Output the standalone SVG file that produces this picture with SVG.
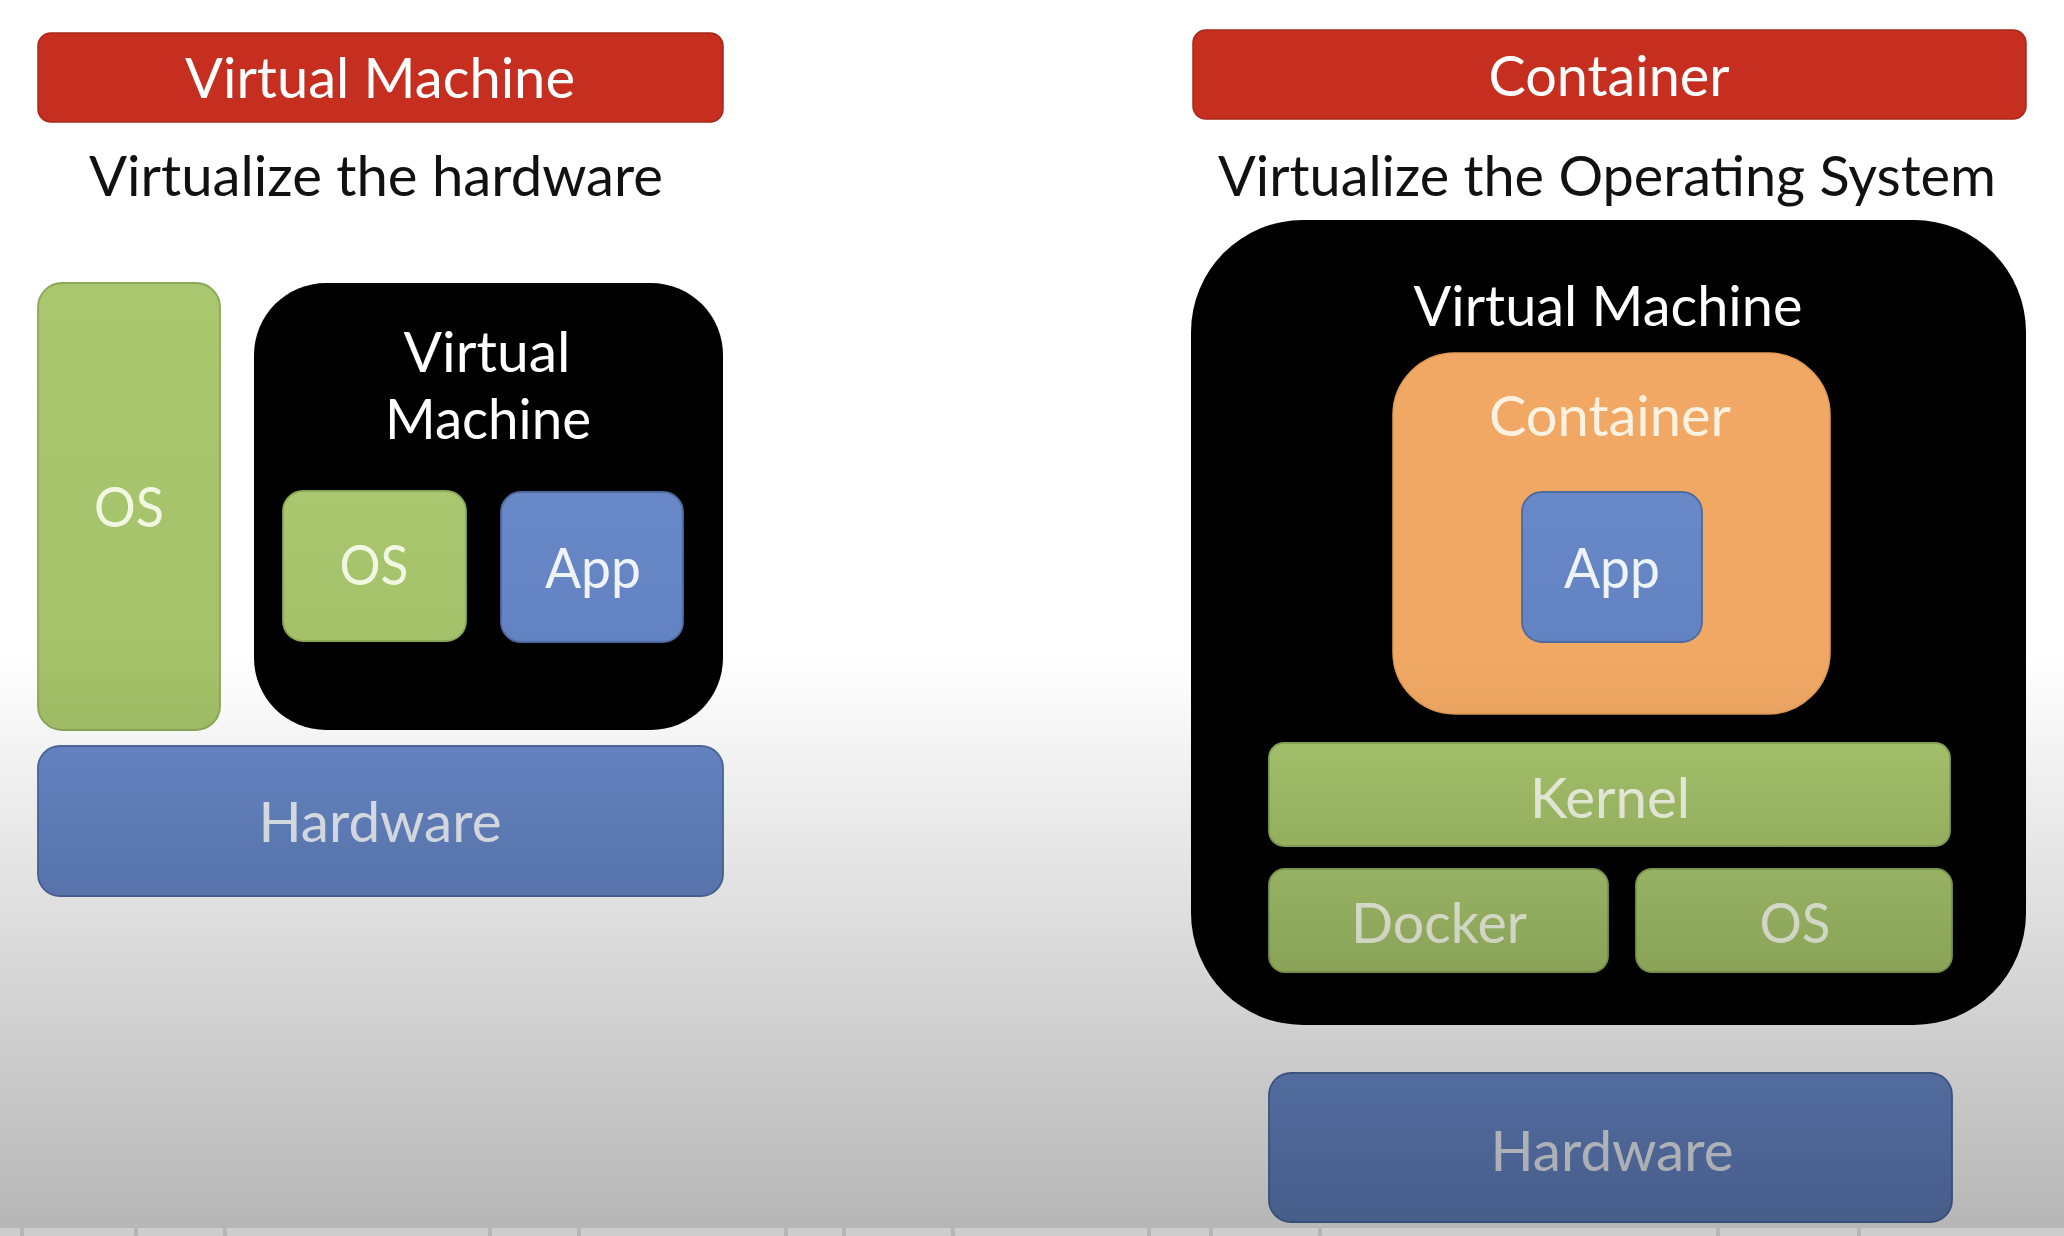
<svg xmlns="http://www.w3.org/2000/svg" width="2064" height="1236" viewBox="0 0 2064 1236">
<style>
text{font-family:Lato,"Open Sans","Liberation Sans",sans-serif;text-anchor:middle;font-size:56px}
.hdr{fill:#c62e1f;stroke:#a9271a;stroke-width:1.5}
.sub{fill:#111111}
.w{fill:#ffffff}
.green{fill:url(#gGreen);stroke:#8aa858;stroke-width:1.8}
.blue{fill:url(#gBlue);stroke:#4d6a9f;stroke-width:1.8}
.orange{fill:#f0a864;stroke:#e39a57;stroke-width:1.5}
.black{fill:#000000}
.tg{fill:#f2f7e4}
.tb{fill:#eef2f9}
.to{fill:#fdf2e2}
.th{fill:#e6ebf2}
</style>
<defs>
<linearGradient id="gGreen" x1="0" y1="0" x2="0" y2="1"><stop offset="0" stop-color="#a9c76f"/><stop offset="1" stop-color="#a3c168"/></linearGradient>
<linearGradient id="gBlue" x1="0" y1="0" x2="0" y2="1"><stop offset="0" stop-color="#6888c8"/><stop offset="1" stop-color="#6382c1"/></linearGradient>
<linearGradient id="shade" x1="0" y1="0" x2="0" y2="1"><stop offset="0.53" stop-color="#000" stop-opacity="0"/><stop offset="1" stop-color="#000" stop-opacity="0.29"/></linearGradient>
</defs>
<rect x="0" y="0" width="2064" height="1236" fill="#ffffff"/>

<g id="vm-header">
<rect class="hdr" x="38" y="33" width="685" height="89" rx="13"/>
<text class="w" x="380" y="98" textLength="390" lengthAdjust="spacingAndGlyphs">Virtual Machine</text>
</g>
<g id="vm-subtitle">
<text class="sub" x="376" y="196" textLength="574" lengthAdjust="spacingAndGlyphs">Virtualize the hardware</text>
</g>
<g id="vm-host-os">
<rect class="green" x="38" y="283" width="182" height="447" rx="24"/>
<text class="tg" x="129" y="527" textLength="70" lengthAdjust="spacingAndGlyphs">OS</text>
</g>
<g id="vm-box">
<rect class="black" x="254" y="283" width="469" height="447" rx="72"/>
<text class="w" x="487" y="372" textLength="167" lengthAdjust="spacingAndGlyphs">Virtual</text>
<text class="w" x="488" y="439" textLength="206" lengthAdjust="spacingAndGlyphs">Machine</text>
</g>
<g id="vm-guest-os">
<rect class="green" x="283" y="491" width="183" height="150" rx="20"/>
<text class="tg" x="374" y="585" textLength="69" lengthAdjust="spacingAndGlyphs">OS</text>
</g>
<g id="vm-app">
<rect class="blue" x="501" y="492" width="182" height="150" rx="20"/>
<text class="tb" x="593" y="588" textLength="96" lengthAdjust="spacingAndGlyphs">App</text>
</g>
<g id="vm-hardware">
<rect class="blue" x="38" y="746" width="685" height="150" rx="22"/>
<text class="th" x="380" y="842" textLength="243" lengthAdjust="spacingAndGlyphs">Hardware</text>
</g>

<g id="ct-header">
<rect class="hdr" x="1193" y="30" width="833" height="89" rx="13"/>
<text class="w" x="1609" y="96" textLength="241" lengthAdjust="spacingAndGlyphs">Container</text>
</g>
<g id="ct-subtitle">
<text class="sub" x="1607" y="196" textLength="778" lengthAdjust="spacingAndGlyphs">Virtualize the Operating System</text>
</g>
<g id="ct-vm">
<rect class="black" x="1191" y="220" width="835" height="805" rx="112"/>
<text class="w" x="1608" y="326" textLength="389" lengthAdjust="spacingAndGlyphs">Virtual Machine</text>
</g>
<g id="ct-container">
<rect class="orange" x="1393" y="353" width="437" height="361" rx="62"/>
<text class="to" x="1610" y="436" textLength="242" lengthAdjust="spacingAndGlyphs">Container</text>
</g>
<g id="ct-app">
<rect class="blue" x="1522" y="492" width="180" height="150" rx="20"/>
<text class="tb" x="1612" y="588" textLength="96" lengthAdjust="spacingAndGlyphs">App</text>
</g>
<g id="ct-kernel">
<rect class="green" x="1269" y="743" width="681" height="103" rx="15"/>
<text class="tg" x="1610" y="818" textLength="160" lengthAdjust="spacingAndGlyphs">Kernel</text>
</g>
<g id="ct-docker">
<rect class="green" x="1269" y="869" width="339" height="103" rx="16"/>
<text class="tg" x="1439" y="943" textLength="176" lengthAdjust="spacingAndGlyphs">Docker</text>
</g>
<g id="ct-os">
<rect class="green" x="1636" y="869" width="316" height="103" rx="16"/>
<text class="tg" x="1795" y="943" textLength="71" lengthAdjust="spacingAndGlyphs">OS</text>
</g>
<g id="ct-hardware">
<rect class="blue" x="1269" y="1073" width="683" height="149" rx="22"/>
<text class="th" x="1612" y="1171" textLength="243" lengthAdjust="spacingAndGlyphs">Hardware</text>
</g>

<g id="connectors"/>

<rect x="0" y="0" width="2064" height="1236" fill="url(#shade)"/>
<g id="bottom-bar" fill="#cdcdcd">
<rect x="0" y="1228" width="20" height="8"/>
<rect x="24" y="1228" width="110" height="8"/>
<rect x="138" y="1228" width="85" height="8"/>
<rect x="227" y="1228" width="261" height="8"/>
<rect x="492" y="1228" width="85" height="8"/>
<rect x="581" y="1228" width="203" height="8"/>
<rect x="788" y="1228" width="54" height="8"/>
<rect x="846" y="1228" width="105" height="8"/>
<rect x="955" y="1228" width="192" height="8"/>
<rect x="1151" y="1228" width="58" height="8"/>
<rect x="1213" y="1228" width="105" height="8"/>
<rect x="1322" y="1228" width="394" height="8"/>
<rect x="1720" y="1228" width="137" height="8"/>
<rect x="1861" y="1228" width="203" height="8"/>
</g>
</svg>
